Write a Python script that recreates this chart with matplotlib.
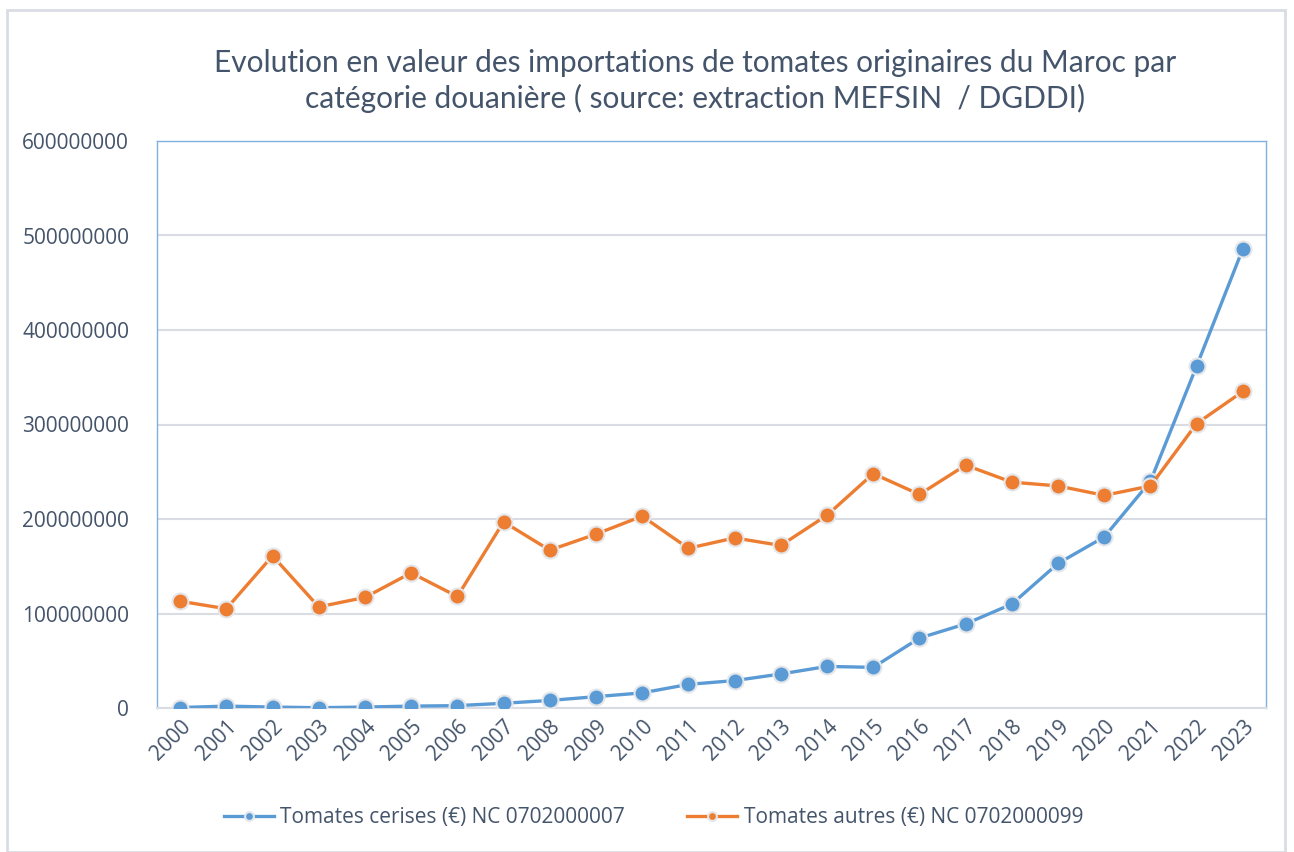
import matplotlib.pyplot as plt
from matplotlib.patches import Rectangle

# data
years = [str(y) for y in range(2000, 2024)]
cerises = [0.5e6, 2e6, 1e6, 0.3e6, 1e6, 2e6, 2.5e6, 5e6, 8e6, 12e6, 16e6, 25e6,
           29e6, 36e6, 44e6, 43e6, 74e6, 89e6, 110e6, 153e6, 181e6, 240e6,
           362e6, 486e6]
autres = [113e6, 105e6, 161e6, 107e6, 117e6, 143e6, 118e6, 197e6, 167e6, 184e6,
          203e6, 169e6, 180e6, 172e6, 204e6, 248e6, 226e6, 257e6, 239e6, 235e6,
          225e6, 235e6, 301e6, 335e6]
yticks = [0, 100000000, 200000000, 300000000, 400000000, 500000000, 600000000]

blue = '#5B9BD5'
orange = '#ED7D31'
text_col = '#44546A'

plt.rcParams['font.family'] = ['Open Sans', 'DejaVu Sans']

fig = plt.figure(figsize=(12.94, 8.52), dpi=100)
# outer chart frame
fig.patches.append(Rectangle((7 / 1294, 0), 1278 / 1294, 842 / 852,
                             transform=fig.transFigure, fill=False,
                             edgecolor='#D9DDE3', linewidth=2))

ax = fig.add_axes([157 / 1294, 1 - 708 / 852, 1109 / 1294, 567 / 852])
x = list(range(len(years)))

ax.plot(x, cerises, color=blue, linewidth=2.4, marker='o', markersize=11.5,
        markerfacecolor=blue, markeredgecolor='#E4E6EA', markeredgewidth=1.5,
        label='Tomates cerises (€) NC 0702000007', zorder=3)
ax.plot(x, autres, color=orange, linewidth=2.4, marker='o', markersize=11.5,
        markerfacecolor=orange, markeredgecolor='#E4E6EA', markeredgewidth=1.5,
        label='Tomates autres (€) NC 0702000099', zorder=3)

ax.set_xlim(-0.5, 23.5)
ax.set_ylim(0, 600000000)
ax.set_yticks(yticks)
ax.set_yticklabels([str(v) for v in yticks])
ax.set_xticks(x)
ax.set_xticklabels(years, rotation=45, ha='right', rotation_mode='anchor')
ax.tick_params(axis='both', length=0, labelsize=15, colors=text_col)
ax.tick_params(axis='y', pad=20)
ax.tick_params(axis='x', pad=6)
ax.grid(axis='y', color='#D9DDE3', linewidth=1.5)
ax.set_axisbelow(True)
for s in ['left', 'top', 'right']:
    ax.spines[s].set_color('#7FB0E0')
    ax.spines[s].set_linewidth(1)
ax.spines['bottom'].set_color('#D9DDE3')
ax.spines['bottom'].set_linewidth(1.5)

fig.text(0.537, 1 - 81 / 852,
         'Evolution en valeur des importations de tomates originaires du Maroc par\n'
         'catégorie douanière ( source: extraction MEFSIN  / DGDDI)',
         ha='center', va='center', fontsize=21.5, color=text_col,
         family=['Lato', 'DejaVu Sans'], linespacing=1.3)

leg = fig.legend(loc='center', bbox_to_anchor=(0.505, 1 - 818 / 852), ncol=2,
                 frameon=False, fontsize=15, columnspacing=3.0,
                 handlelength=2.4, handletextpad=0.3, markerscale=0.55)
for t in leg.get_texts():
    t.set_color(text_col)

fig.savefig('out.png', dpi=100)
